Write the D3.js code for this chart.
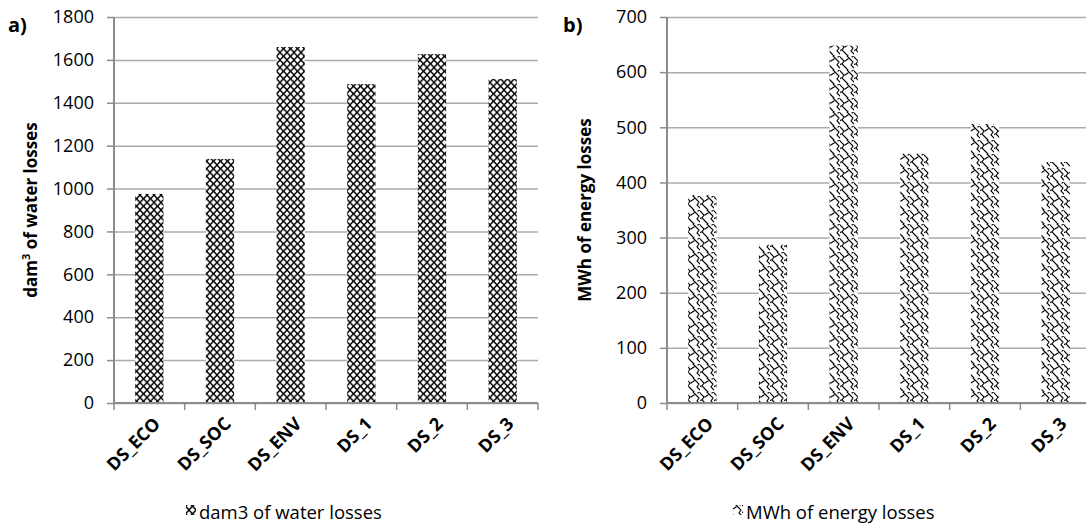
<!DOCTYPE html>
<html>
<head>
<meta charset="utf-8">
<script src="https://cdn.jsdelivr.net/npm/d3@7"></script>
<style>
  body { margin: 0; background: #fff; }
  text { font-family: "Open Sans", "DejaVu Sans", sans-serif; fill: #000; }
</style>
</head>
<body>
<script>
// data
var categories = ["DS_ECO", "DS_SOC", "DS_ENV", "DS_1", "DS_2", "DS_3"];
var waterLosses = [975, 1138, 1660, 1487, 1627, 1511];
var energyLosses = [377, 287, 648, 452, 506, 437];
var waterTicks = [0, 200, 400, 600, 800, 1000, 1200, 1400, 1600, 1800];
var energyTicks = [0, 100, 200, 300, 400, 500, 600, 700];

var W = 1086, H = 524;

var svg = d3.select("body").append("svg")
  .attr("xmlns", "http://www.w3.org/2000/svg")
  .attr("width", W)
  .attr("height", H);

var defs = svg.append("defs");

// crossed pattern for water bars
var patA = defs.append("pattern")
  .attr("id", "patA")
  .attr("patternUnits", "userSpaceOnUse")
  .attr("width", 7).attr("height", 7.5);
patA.append("rect").attr("width", 7).attr("height", 7.5).attr("fill", "#fff");
patA.append("path")
  .attr("d", "M-1,-1 L8,8.5 M8,-1 L-1,8.5")
  .attr("stroke", "#000").attr("stroke-width", 1.4).attr("fill", "none");

// wavy pattern for energy bars
var patB = defs.append("pattern")
  .attr("id", "patB")
  .attr("patternUnits", "userSpaceOnUse")
  .attr("width", 14).attr("height", 14);
patB.append("rect").attr("width", 14).attr("height", 14).attr("fill", "#fff");
patB.append("path")
  .attr("d", "M0,1 L4,5 L2,8 L6,12 L8,14 M7,0 L9,2 L13,6 L11,9 L14,12 M12,1 L14,0 M5,5 L8,3 M-2,10 L1,8")
  .attr("stroke", "#000").attr("stroke-width", 1.1).attr("fill", "none")
  .attr("stroke-linecap", "square");

function drawPanel(cfg) {
  var g = svg.append("g");

  var x = d3.scaleBand()
    .domain(categories)
    .range([cfg.left, cfg.right])
    .paddingInner(0.6)
    .paddingOuter(0.3);

  var y = d3.scaleLinear()
    .domain([0, cfg.max])
    .range([cfg.bottom, cfg.top]);

  // gridlines
  g.append("g")
    .attr("transform", "translate(" + cfg.left + ",0)")
    .call(d3.axisLeft(y).tickValues(cfg.ticks).tickSize(-(cfg.right - cfg.left)).tickFormat(""))
    .call(function(s) {
      s.select(".domain").remove();
      s.selectAll("line").attr("stroke", "#ababab").attr("stroke-width", 1.5);
    });

  // y axis with ticks and labels
  g.append("g")
    .attr("transform", "translate(" + cfg.left + ",0)")
    .call(d3.axisLeft(y).tickValues(cfg.ticks).tickSize(7).tickPadding(13).tickFormat(d3.format("d")))
    .call(function(s) {
      s.attr("font-size", 18).attr("font-family", "Open Sans");
      s.select(".domain").attr("stroke", "#8c8c8c").attr("stroke-width", 2)
        .attr("d", "M0," + cfg.top + "V" + cfg.bottom);
      s.selectAll("line").attr("stroke", "#8c8c8c").attr("stroke-width", 1.5);
      s.selectAll("text").attr("fill", "#000");
    });

  // bars
  g.selectAll("rect.bar").data(cfg.values)
    .enter()
    .append("rect")
    .attr("class", "bar")
    .attr("x", function(d, i) { return x(categories[i]); })
    .attr("width", x.bandwidth())
    .attr("y", function(d) { return y(d); })
    .attr("height", function(d) { return y(0) - y(d); })
    .attr("fill", "url(#" + cfg.pattern + ")");

  // x axis
  var bounds = d3.range(categories.length + 1).map(function(i) { return cfg.left + i * (cfg.right - cfg.left) / categories.length; });
  g.append("line")
    .attr("x1", cfg.left).attr("x2", cfg.right)
    .attr("y1", cfg.bottom).attr("y2", cfg.bottom)
    .attr("stroke", "#8c8c8c").attr("stroke-width", 2);
  g.selectAll("line.xt").data(bounds)
    .enter()
    .append("line")
    .attr("class", "xt")
    .attr("x1", function(d) { return d; }).attr("x2", function(d) { return d; })
    .attr("y1", cfg.bottom).attr("y2", cfg.bottom + 7)
    .attr("stroke", "#8c8c8c").attr("stroke-width", 1.5);

  g.selectAll("text.xl").data(categories)
    .enter()
    .append("text")
    .attr("class", "xl")
    .attr("text-anchor", "end")
    .attr("font-weight", "bold")
    .attr("font-size", 18)
    .attr("transform", function(d) {
      return "translate(" + (x(d) + x.bandwidth() / 2 + 12) + "," + (cfg.bottom + 22) + ") rotate(-45)";
    })
    .text(function(d) { return d; });

  // y title
  var ty = g.append("text")
    .attr("text-anchor", "middle")
    .attr("font-weight", "bold")
    .attr("font-size", 17)
    .attr("transform", "translate(" + cfg.titleX + "," + ((cfg.top + cfg.bottom) / 2) + ") rotate(-90)");
  ty.append("tspan").text(cfg.titleA);
  if (cfg.titleSup) {
    ty.append("tspan").attr("font-size", 11).attr("dy", -7).text(cfg.titleSup);
    ty.append("tspan").attr("dy", 7).text(cfg.titleB);
  }

  // panel letter
  g.append("text")
    .attr("x", cfg.letterX).attr("y", 32)
    .attr("font-weight", "bold")
    .attr("font-size", 20)
    .text(cfg.letter);

  // legend
  g.append("rect")
    .attr("x", cfg.legendX).attr("y", 505)
    .attr("width", 10).attr("height", 10)
    .attr("fill", "url(#" + cfg.pattern + ")");
  g.append("text")
    .attr("x", cfg.legendX + 13).attr("y", 519)
    .attr("font-size", 18.5)
    .text(cfg.legend);
}

drawPanel({
  left: 114, right: 538, top: 17, bottom: 403,
  max: 1800, ticks: waterTicks, values: waterLosses,
  pattern: "patA",
  titleX: 37, titleA: "dam", titleSup: "3", titleB: " of water losses",
  letter: "a)", letterX: 8,
  legendX: 186, legend: "dam3 of water losses"
});

drawPanel({
  left: 667, right: 1091, top: 17, bottom: 403,
  max: 700, ticks: energyTicks, values: energyLosses,
  pattern: "patB",
  titleX: 591, titleA: "MWh of energy losses", titleSup: null, titleB: "",
  letter: "b)", letterX: 563,
  legendX: 733, legend: "MWh of energy losses"
});
</script>
</body>
</html>
